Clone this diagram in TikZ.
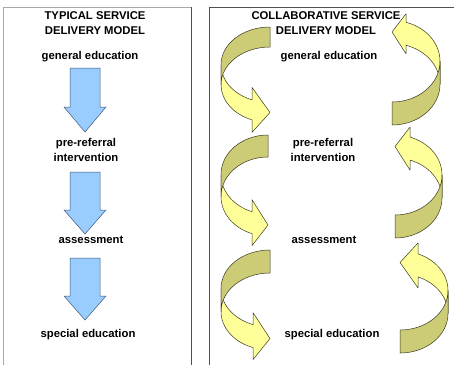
\documentclass[tikz,border=0pt]{standalone}
\usepackage{fontspec}
\setmainfont{Liberation Sans}
\begin{document}
% Ribbon arrow (curved arrow turning on the left, head pointing right).
% Local frame: origin at the top of the flat end, y grows downward.
% #1 w, #2 h, #3 th (ribbon thickness), #4 aw (head width), #5 ah (head length)
\newcommand{\ribbonarrow}[5]{%
  \pgfmathsetmacro{\rw}{#1}%
  \pgfmathsetmacro{\rth}{#3}%
  \pgfmathsetmacro{\rah}{#5}%
  \pgfmathsetmacro{\rhR}{#2/2-(#3+#4)/4}%
  \pgfmathsetmacro{\rdy}{\rhR*sqrt(#1*#1-#5*#5)/#1}%
  \pgfmathsetmacro{\rs}{acos(#5/#1)}%
  \pgfmathsetmacro{\ryfive}{\rhR+\rdy}%
  \pgfmathsetmacro{\ryseven}{\rhR+#3+\rdy}%
  \pgfmathsetmacro{\ryfour}{\ryfive-(#4-#3)/2}%
  \pgfmathsetmacro{\ryeight}{\ryseven+(#4-#3)/2}%
  \pgfmathsetmacro{\rysix}{#2-#4/2}%
  \pgfmathsetmacro{\rlow}{\rhR+\rth}%
  \filldraw[ribbonfront] (-\rw,\rhR)
    arc[start angle=180, end angle=180-\rs, x radius=\rw, y radius=\rhR]
    -- (-\rah,\ryfour) -- (0,\rysix) -- (-\rah,\ryeight) -- (-\rah,\ryseven)
    arc[start angle=180-\rs, end angle=180, x radius=\rw, y radius=\rhR]
    -- cycle;
  \filldraw[ribbonback] (0,0)
    arc[start angle=270, end angle=180, x radius=\rw, y radius=\rhR]
    -- (-\rw,\rlow)
    arc[start angle=180, end angle=270, x radius=\rw, y radius=\rhR]
    -- cycle;
}
% Straight block arrow pointing down: #1 centre x, #2 top, #3 head base, #4 tip
\newcommand{\blockdown}[4]{%
  \filldraw[blockarrow] (#1-15,#2) -- (#1+15,#2) -- (#1+15,#3) -- (#1+21,#3)
    -- (#1,#4) -- (#1-21,#3) -- (#1-15,#3) -- cycle;
}
\begin{tikzpicture}[x=1pt,y=1pt,yscale=-1,
  label/.style={font=\fontsize{11.3}{15.5}\selectfont\bfseries, align=center, inner sep=0pt},
  ribbonfront/.style={fill=ribbonlight, draw=ribbonline, line width=0.5pt, line join=round},
  ribbonback/.style={fill=ribbondark, draw=ribbonline, line width=0.5pt, line join=round},
  blockarrow/.style={fill=blockblue, draw=blockline, line width=0.5pt}]
\definecolor{ribbonlight}{HTML}{FFFF99}
\definecolor{ribbondark}{HTML}{CCCC77}
\definecolor{ribbonline}{HTML}{3A3A20}
\definecolor{blockblue}{HTML}{99CCFF}
\definecolor{blockline}{HTML}{3E5A78}
\definecolor{framelight}{HTML}{A8A8A8}
\definecolor{framedark}{HTML}{505050}
\useasboundingbox (0,0) rectangle (454,365);
\fill[white] (0,0) rectangle (454,365);

% panel frames
\draw[framelight, line width=1pt] (3,365) -- (3,7) -- (191,7);
\draw[framedark, line width=1pt] (191,7) -- (191,365);
\draw[framedark, line width=1pt] (209,365) -- (209,7) -- (454,7);

% typical model
\node[label] (ttitle) at (95,23) {TYPICAL SERVICE\\DELIVERY MODEL};
\node[label] (tgen) at (90,57) {general education};
\node[label] (tpre) at (86,150) {pre-referral\\intervention};
\node[label] (tass) at (91,240) {assessment};
\node[label] (tspe) at (88,335) {special education};
\blockdown{85}{68}{107}{132}
\blockdown{85}{172}{210}{234}
\blockdown{85}{258}{296}{320}

% collaborative model
\node[label] (ctitle) at (326,23) {COLLABORATIVE SERVICE\\DELIVERY MODEL};
\node[label] (cgen) at (329,57) {general education};
\node[label] (cpre) at (323,150) {pre-referral\\intervention};
\node[label] (cass) at (324,240) {assessment};
\node[label] (cspe) at (332,335) {special education};

\begin{scope}[shift={(270,27)}]\ribbonarrow{49}{108}{20}{45}{18}\end{scope}
\begin{scope}[shift={(268,135)}]\ribbonarrow{47}{113}{22}{46}{16}\end{scope}
\begin{scope}[shift={(270,250)}]\ribbonarrow{49}{112}{23}{47}{17}\end{scope}
\begin{scope}[shift={(392,125)},rotate=180]\ribbonarrow{48}{113}{23}{40}{14}\end{scope}
\begin{scope}[shift={(395,238)},rotate=180]\ribbonarrow{47}{113}{23}{43}{15}\end{scope}
\begin{scope}[shift={(400,353)},rotate=180]\ribbonarrow{48}{113}{23}{45}{18}\end{scope}
\end{tikzpicture}
\end{document}
